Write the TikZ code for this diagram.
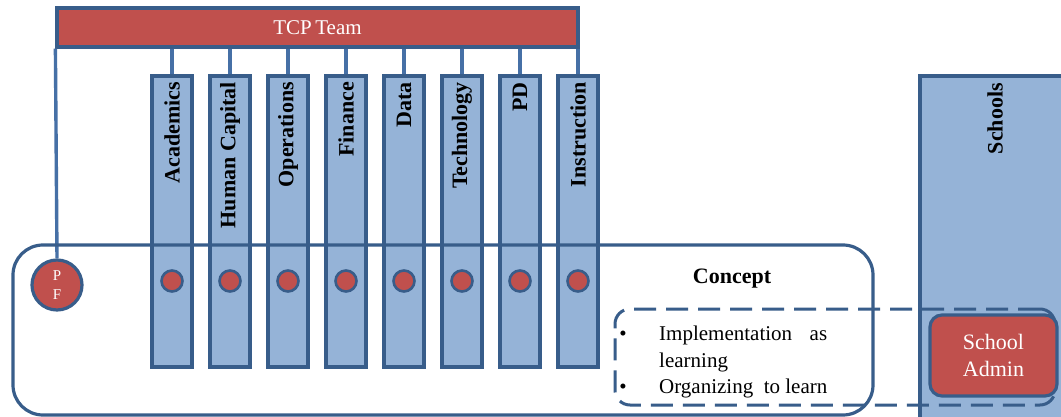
\documentclass[tikz,border=0pt]{standalone}
\usepackage{fontspec}
\setmainfont{Liberation Serif}
\usetikzlibrary{calc}
\definecolor{tred}{HTML}{C0504D}
\definecolor{tfill}{HTML}{95B3D7}
\definecolor{tborder}{HTML}{385D8A}
\definecolor{tline}{HTML}{4670A6}
\tikzset{
  colbox/.style={draw=tborder, fill=tfill, line width=3.2pt, minimum width=40pt, minimum height=291pt, inner sep=0pt},
  collabel/.style={rotate=90, anchor=east, inner sep=0pt, font=\fontsize{22}{26}\selectfont\bfseries},
  reddot/.style={circle, draw=tborder, fill=tred, line width=2.6pt, minimum size=21pt, inner sep=0pt},
  conn/.style={draw=tline, line width=3.4pt},
}
\begin{document}
\begin{tikzpicture}[x=1pt,y=-1pt]
\useasboundingbox (0,0) rectangle (1061,417);
\clip (0,0) rectangle (1061,417);
\fill[white] (0,0) rectangle (1061,417);
% Schools column
\node[draw=tborder, fill=tfill, line width=3.2pt, minimum width=160pt, minimum height=360pt, inner sep=0pt] (schools) at (1000,256) {};
\node[collabel] (schoolslbl) at (995,83) {Schools};
% TCP bar
\node[draw=tborder, fill=tred, line width=3.2pt, minimum width=521pt, minimum height=39pt, inner sep=0pt, text=white, font=\fontsize{21}{25}\selectfont] (tcp) at (317.5,27.5) {TCP\,Team};
% columns
\foreach \i/\lbl in {1/Academics,2/Human Capital,3/Operations,4/Finance,5/Data,6/Technology,7/PD,8/Instruction}{
  \pgfmathsetmacro{\cx}{172+58*(\i-1)}
  \node[colbox] (c\i) at (\cx,221.5) {};
  \node[collabel] (l\i) at (\cx,82) {\lbl};
  \draw[conn] (c\i.north |- tcp.south) -- (c\i.north);
}
% PF circle
\node[circle, draw=tborder, fill=tred, line width=3.2pt, minimum size=50pt, inner sep=0pt, text=white, align=center, font=\fontsize{15}{19}\selectfont] (pf) at (57,285) {P\\F};
\draw[conn] (tcp.south west) -- (pf.north);
% big rounded box
\node[draw=tborder, line width=3.2pt, rounded corners=30pt, minimum width=860pt, minimum height=170pt, inner sep=0pt] (region) at (443,330) {};
% dots
\foreach \i in {1,...,8}{
  \node[reddot] (d\i) at (c\i |- 0,281) {};
}
\node[anchor=base, font=\fontsize{22}{26}\selectfont\bfseries] (concept) at (732,283) {Concept};
% dashed box
\node[draw=tborder, line width=3pt, dash pattern=on 22pt off 10pt, rounded corners=15pt, minimum width=440pt, minimum height=96pt, inner sep=0pt] (dash) at (835,357) {};
% school admin
\node[draw=tborder, fill=tred, line width=3.2pt, rounded corners=12pt, minimum width=127pt, minimum height=81pt, inner sep=0pt, text=white, align=center, font=\fontsize{22}{27}\selectfont] (admin) at (993.5,355.5) {School\\Admin};
% bullets
\node[anchor=base, font=\fontsize{21}{25}\selectfont] (b1) at (623,340) {•};
\node[anchor=base west, inner sep=0pt, font=\fontsize{21}{25}\selectfont] (t1) at (659,340) {\makebox[168pt][s]{Implementation as}};
\node[anchor=base west, inner sep=0pt, font=\fontsize{21}{25}\selectfont] (t2) at (659,367) {learning};
\node[anchor=base, font=\fontsize{21}{25}\selectfont] (b2) at (623,393) {•};
\node[anchor=base west, inner sep=0pt, font=\fontsize{21}{25}\selectfont] (t3) at (659,393) {Organizing\ \ to learn};
\end{tikzpicture}
\end{document}
